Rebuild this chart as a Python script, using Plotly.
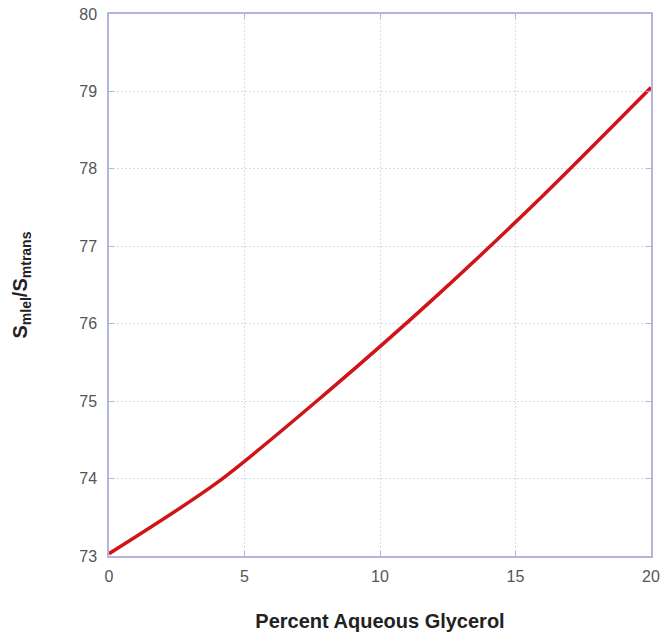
import plotly.graph_objects as go

glycerol_pct = [0, 4, 8, 12, 16, 20]
ratio = [73.03, 73.95, 75.10, 76.33, 77.65, 79.05]
x_ticks = [0, 5, 10, 15, 20]
y_ticks = [73, 74, 75, 76, 77, 78, 79, 80]

fig = go.Figure()
fig.add_trace(go.Scatter(
    x=glycerol_pct, y=ratio, mode="lines",
    line=dict(color="#d01418", width=3.5, shape="spline", smoothing=0.8),
    showlegend=False,
))

axis_common = dict(
    showline=True, linecolor="#b4b4de", linewidth=1.5, mirror="ticks",
    ticks="inside", ticklen=5, tickcolor="#b4b4de",
    showgrid=True, gridcolor="#d8dbea", griddash="2px,2px", gridwidth=1,
    zeroline=False, automargin=False,
    tickfont=dict(family="Liberation Sans, Arial", size=16, color="#555555"),
)

fig.update_layout(
    width=660, height=634,
    margin=dict(l=109, r=9, t=14, b=78),
    paper_bgcolor="white", plot_bgcolor="white",
    xaxis=dict(range=[0, 20], tickvals=x_ticks, ticklabelstandoff=5, **axis_common,
               title=dict(text="<b>Percent Aqueous Glycerol</b>", standoff=30,
                          font=dict(family="Liberation Sans, Arial", size=20, color="#222222"))),
    yaxis=dict(range=[73, 80], tickvals=y_ticks, ticklabelstandoff=7, **axis_common,
               title=dict(text="<b>S<sub>mlel</sub>/S<sub>mtrans</sub></b>", standoff=46,
                          font=dict(family="Liberation Sans, Arial", size=20, color="#222222"))),
)

fig.write_html("out.html", config={"displayModeBar": False})
with open("out.html", encoding="utf-8") as f:
    html = f.read()
html = html.replace("<body>", '<body style="margin:0;padding:0;">', 1)
with open("out.html", "w", encoding="utf-8") as f:
    f.write(html)
